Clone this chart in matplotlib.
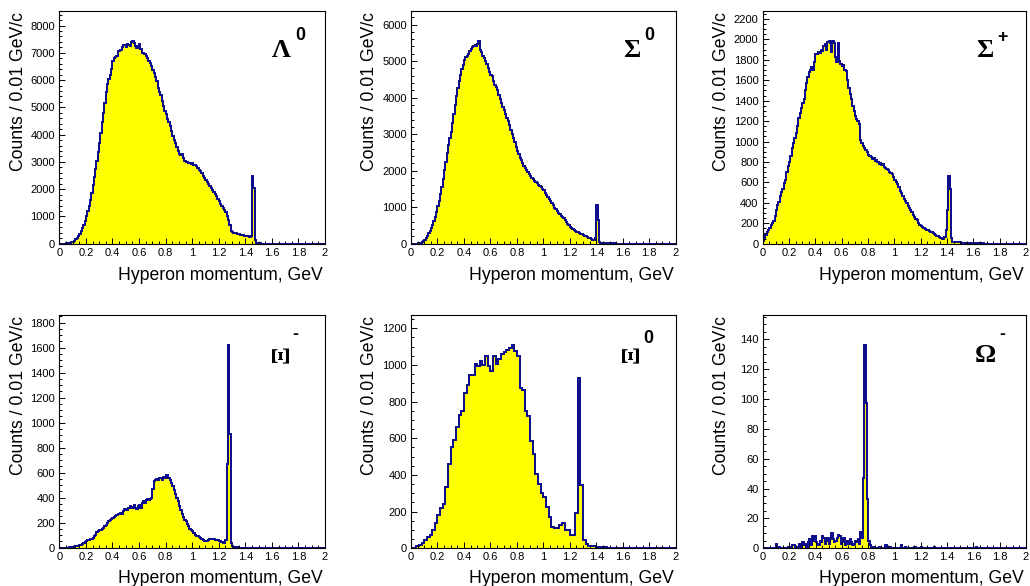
import numpy as np
import matplotlib
matplotlib.use("Agg")
import matplotlib.pyplot as plt
from matplotlib.ticker import MultipleLocator, FuncFormatter

plt.rcParams['font.family'] = ['Liberation Sans', 'DejaVu Sans']

# counts per bin, starting at p = 0 GeV (missing bins up to 2 GeV are empty)
lambda0 = [0, 0, 0, 0, 5, 10, 15, 25, 35, 50,
           75, 110, 160, 220, 290, 360, 450, 560, 700, 850,
           1020, 1200, 1400, 1620, 1850, 2150, 2450, 2750, 3050, 3350,
           3700, 4050, 4450, 4800, 5150, 5550, 5850, 6050, 6200, 6400,
           6700, 6800, 6850, 6900, 7050, 7080, 7100, 7200, 7280, 7300,
           7200, 7330, 7300, 7250, 7380, 7420, 7350, 7250, 7180, 7250,
           7320, 7150, 7000, 6980, 6950, 6880, 6800, 6700, 6620, 6500,
           6380, 6250, 6100, 5950, 5700, 5550, 5450, 5250, 5050, 4880,
           4750, 4580, 4450, 4300, 4150, 3950, 3800, 3680, 3550, 3400,
           3300, 3250, 3280, 3150, 3050, 3000, 2980, 2950, 2970, 2930,
           2950, 2900, 2880, 2850, 2780, 2700, 2680, 2580, 2500, 2420,
           2350, 2280, 2200, 2120, 2050, 1980, 1900, 1820, 1740, 1650,
           1550, 1450, 1380, 1320, 1250, 1150, 1020, 880, 700, 480,
           420, 400, 390, 380, 360, 340, 330, 320, 310, 300,
           290, 280, 270, 260, 300, 2480, 2050, 150, 40, 20,
           10, 8, 6, 5, 4]

sigma0 = [0, 0, 0, 0, 5, 10, 20, 30, 45, 70,
          100, 150, 210, 280, 360, 440, 520, 620, 740, 880,
          1030, 1180, 1350, 1550, 1780, 2020, 2250, 2480, 2700, 2900,
          3050, 3300, 3550, 3800, 4050, 4250, 4450, 4620, 4780, 4900,
          5020, 5100, 5150, 5200, 5280, 5320, 5380, 5400, 5450, 5420,
          5480, 5540, 5300, 5250, 5150, 5080, 5000, 4930, 4820, 4700,
          4620, 4580, 4450, 4350, 4280, 4200, 4080, 3950, 3850, 3740,
          3650, 3560, 3450, 3350, 3250, 3120, 3000, 2900, 2780, 2660,
          2550, 2450, 2360, 2280, 2200, 2140, 2080, 2020, 1960, 1900,
          1850, 1800, 1760, 1720, 1690, 1660, 1620, 1580, 1540, 1500,
          1460, 1400, 1340, 1270, 1220, 1170, 1110, 1050, 990, 940,
          900, 850, 800, 750, 720, 690, 640, 590, 540, 500,
          465, 430, 400, 370, 345, 330, 310, 290, 270, 255,
          240, 220, 200, 180, 165, 150, 130, 110, 95, 150,
          1060, 650, 60, 20, 18, 15, 15, 12, 12, 10,
          10, 8, 8, 6, 6, 5, 5, 4, 4, 3, 3]

sigma_plus = [30, 60, 90, 110, 130, 150, 180, 200, 220, 270,
              330, 380, 410, 470, 510, 540, 590, 620, 700, 760,
              800, 860, 940, 990, 1030, 1080, 1150, 1230, 1280, 1330,
              1380, 1420, 1500, 1570, 1630, 1680, 1700, 1730, 1700, 1780,
              1860, 1860, 1880, 1870, 1900, 1890, 1930, 1950, 1900, 1970,
              1980, 1960, 1880, 1980, 1960, 1830, 1780, 1960, 1790, 1760,
              1740, 1750, 1700, 1690, 1600, 1520, 1460, 1420, 1350, 1300,
              1250, 1220, 1200, 1170, 1010, 990, 960, 940, 920, 900,
              870, 860, 850, 830, 840, 810, 820, 800, 780, 790,
              770, 775, 750, 740, 735, 720, 705, 690, 680, 650,
              620, 600, 580, 550, 520, 500, 470, 440, 420, 400,
              370, 350, 330, 310, 285, 265, 245, 230, 200, 180,
              170, 160, 150, 140, 135, 130, 120, 115, 110, 100,
              95, 90, 80, 75, 70, 60, 50, 45, 70, 130,
              330, 660, 540, 60, 20, 18, 16, 15, 14, 12,
              12, 10, 10, 9, 8, 8, 7, 6, 6, 5,
              5, 5, 4, 4, 3, 3, 2, 2]

xi_minus = [0, 0, 0, 0, 0, 0, 0, 2, 3, 5,
            6, 8, 10, 12, 15, 20, 25, 30, 38, 45,
            55, 58, 62, 68, 72, 78, 90, 105, 125, 135,
            140, 145, 150, 160, 175, 185, 200, 210, 220, 230,
            240, 245, 250, 262, 268, 270, 280, 270, 290, 310,
            305, 300, 320, 330, 325, 320, 345, 315, 310, 330,
            340, 320, 355, 370, 355, 380, 390, 385, 390, 395,
            470, 530, 545, 550, 540, 555, 560, 545, 565, 555,
            580, 585, 560, 540, 520, 490, 460, 430, 400, 370,
            330, 300, 270, 245, 225, 210, 190, 170, 150, 140,
            130, 115, 100, 95, 90, 88, 80, 70, 60, 55,
            50, 55, 65, 70, 72, 70, 68, 65, 62, 60,
            55, 50, 45, 40, 38, 60, 670, 1620, 910, 40,
            15, 8, 5, 3, 2]

# 0.02 GeV bins for this one
xi0 = [0, 3, 10, 18, 28, 45, 60, 75, 100, 140,
       180, 220, 240, 335, 460, 550, 590, 660, 725, 750,
       845, 890, 945, 945, 1005, 995, 1020, 1000, 1050, 995,
       965, 1050, 1005, 1030, 1060, 1070, 1080, 1095, 1108, 1077,
       1050, 874, 863, 751, 724, 588, 516, 407, 350, 299,
       280, 226, 172, 118, 109, 109, 127, 136, 100, 100,
       72, 72, 190, 930, 345, 45, 25, 15, 10, 10,
       8, 6, 5, 5, 4, 3, 3, 2, 2, 1]

omega = [0, 0, 0, 0, 0, 0, 0, 0, 0, 0,
         3, 0, 1, 0, 0, 0, 0, 0, 0, 1,
         1, 0, 2, 2, 0, 0, 1, 3, 0, 2,
         4, 2, 3, 1, 4, 6, 2, 8, 5, 8,
         4, 3, 2, 5, 4, 8, 7, 3, 5, 7,
         3, 6, 10, 6, 4, 5, 7, 9, 8, 3,
         4, 7, 2, 4, 5, 3, 6, 4, 2, 3,
         5, 4, 6, 3, 11, 7, 47, 136, 97, 33,
         5, 2, 0, 1, 1, 0, 0, 0, 1, 0,
         0, 0, 0, 2, 0, 0, 1, 0, 0, 0,
         0, 0, 0, 0, 0, 2, 0, 0, 1, 0,
         0, 0, 0, 0, 0, 1, 0, 0, 0, 0,
         1, 0, 0, 0, 0, 0, 0, 0, 0, 0,
         1, 0, 0, 0, 0, 0, 0, 0, 0, 0,
         0, 0, 0, 0, 0, 0, 0, 0, 0, 0,
         0, 0, 0, 0, 0, 0, 0, 0, 0, 0,
         0, 0, 1]

W, H = 1030, 586
LINE = '#0a0a8c'
FILL = '#ffff00'

fig = plt.figure(figsize=(W / 100, H / 100), dpi=100)


def draw_panel(box, counts, width, major, minor, symbol, sup, sym_xy, sup_xy,
               rotate=False, xlab_drop=36.5):
    l, t, r, b = box
    ax = fig.add_axes([l / W, 1 - b / H, (r - l) / W, (b - t) / H])
    axw, axh = r - l, b - t

    nbins = int(round(2.0 / width))
    vals = np.zeros(nbins)
    vals[:len(counts)] = counts
    edges = np.linspace(0, 2, nbins + 1)

    ax.stairs(vals, edges, fill=True, color=FILL, lw=0)
    ax.stairs(vals, edges, color=LINE, lw=1.4)

    ax.set_xlim(0, 2)
    ax.set_ylim(0, 1.15 * max(counts))

    ax.xaxis.set_major_locator(MultipleLocator(0.2))
    ax.xaxis.set_minor_locator(MultipleLocator(0.05))
    ax.yaxis.set_major_locator(MultipleLocator(major))
    ax.yaxis.set_minor_locator(MultipleLocator(minor))
    ax.xaxis.set_major_formatter(FuncFormatter(lambda v, p: f'{v:g}'))
    ax.yaxis.set_major_formatter(FuncFormatter(lambda v, p: f'{v:g}'))
    ax.tick_params(which='major', direction='in', length=4.6, width=0.7,
                   labelsize=8, pad=3, top=False, right=False)
    ax.tick_params(which='minor', direction='in', length=2.4, width=0.7,
                   top=False, right=False)
    for s in ax.spines.values():
        s.set_linewidth(0.8)

    ax.text(1 - 2.3 / axw, -xlab_drop / axh, 'Hyperon momentum, GeV', transform=ax.transAxes,
            ha='right', va='baseline', fontsize=12.7)
    ax.text(-41.0 / axw, 1 - 1.0 / axh, 'Counts / 0.01 GeV/c', transform=ax.transAxes,
            rotation=90, rotation_mode='anchor', ha='right', va='center', fontsize=12.7)

    # particle name: greek letter (serif) + bold superscript
    if rotate:
        ax.text(sym_xy[0], sym_xy[1], symbol, transform=ax.transAxes, rotation=90,
                ha='center', va='center', fontsize=19, fontweight='bold',
                family='Liberation Serif')
    else:
        ax.text(sym_xy[0], sym_xy[1], symbol, transform=ax.transAxes,
                ha='left', va='baseline', fontsize=19, fontweight='bold',
                family='Liberation Serif')
    ax.text(sup_xy[0], sup_xy[1], sup, transform=ax.transAxes,
            ha='center', va='center', fontsize=12.8, fontweight='bold')
    return ax


draw_panel((59.3, 11, 325, 243.7), lambda0, 0.01, 1000, 200, 'Λ', '0',
           (0.80, 0.804), (0.906, 0.895))
draw_panel((411, 11, 675.7, 243.7), sigma0, 0.01, 1000, 200, 'Σ', '0',
           (0.801, 0.804), (0.901, 0.895))
draw_panel((762.7, 11, 1026, 243.7), sigma_plus, 0.01, 200, 50, 'Σ', '+',
           (0.81, 0.804), (0.911, 0.886))
draw_panel((59.3, 314.7, 325, 547.7), xi_minus, 0.01, 200, 50, 'Ξ', '-',
           (0.838, 0.833), (0.889, 0.913), rotate=True, xlab_drop=35)
draw_panel((411, 314.7, 675.7, 548.3), xi0, 0.02, 200, 50, 'Ξ', '0',
           (0.837, 0.832), (0.897, 0.898), rotate=True, xlab_drop=35)
draw_panel((763, 314.7, 1026, 548.3), omega, 0.01, 20, 5, 'Ω', '-',
           (0.806, 0.7975), (0.911, 0.914), xlab_drop=35)

fig.savefig('out.png', dpi=100)
